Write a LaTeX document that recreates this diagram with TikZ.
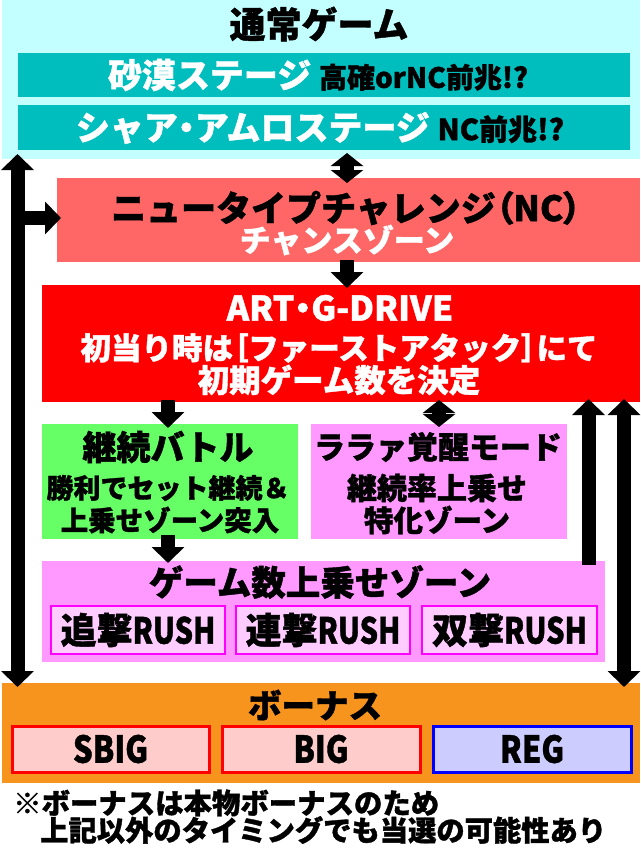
\documentclass[tikz,border=0pt]{standalone}
\usepackage{graphicx}
\usepackage{fontspec}
\setmainfont{Noto Sans CJK JP}[BoldFeatures={FakeBold=1.2}]
\usetikzlibrary{arrows.meta}
\definecolor{cyanbg}{RGB}{196,255,255}
\definecolor{tealbox}{RGB}{0,190,190}
\definecolor{salmon}{RGB}{255,102,102}
\definecolor{artred}{RGB}{255,0,0}
\definecolor{greenbox}{RGB}{102,255,102}
\definecolor{violetbox}{RGB}{255,153,255}
\definecolor{rushfill}{RGB}{255,204,255}
\definecolor{rushline}{RGB}{255,0,255}
\definecolor{orangebox}{RGB}{247,148,29}
\definecolor{bigfill}{RGB}{255,204,204}
\definecolor{regfill}{RGB}{204,204,255}
\newcommand\fsz[1]{\fontsize{#1}{#1}\selectfont}
\newcommand\pp[1]{{\addfontfeature{RawFeature=+palt}#1}}
\newcommand\cond[1]{\scalebox{0.84}[1]{#1}}
\newcommand\rcond[1]{\scalebox{0.8}[1]{#1}}
\begin{document}
\begin{tikzpicture}[x=1pt,y=-1pt,
  box/.style={anchor=north west, inner sep=0pt, outer sep=0pt},
  txt/.style={inner sep=0pt, font=\bfseries},
  rushbox/.style={box, fill=rushfill, draw=rushline, line width=2pt, minimum height=48},
  bonbox/.style={box, line width=3pt, minimum height=46},
  arr/.style={line width=14pt, -{Triangle[width=32pt,length=16pt]}},
  darr/.style={line width=14pt, {Triangle[width=32pt,length=16pt]}-{Triangle[width=32pt,length=16pt]}},
  sdarr/.style={line width=14pt, {Triangle[width=32pt,length=13pt]}-{Triangle[width=32pt,length=13pt]}}
]
\useasboundingbox (0,0) rectangle (640,851);
\fill[white] (0,0) rectangle (640,851);

% boxes
\node[box, fill=cyanbg, minimum width=638, minimum height=159] (normal) at (2,0) {};
\node[box, fill=tealbox, minimum width=612, minimum height=44] (stage1) at (18,53) {};
\node[box, fill=tealbox, minimum width=612, minimum height=45] (stage2) at (18,105) {};
\node[box, fill=salmon, minimum width=583, minimum height=84] (nc) at (57,178) {};
\node[box, fill=artred, minimum width=598, minimum height=117] (art) at (42,285) {};
\node[box, fill=greenbox, minimum width=256, minimum height=115] (battle) at (42,424) {};
\node[box, fill=violetbox, minimum width=256, minimum height=115] (lalah) at (311,424) {};
\node[box, fill=violetbox, minimum width=563, minimum height=101] (zone) at (42,561) {};
\node[rushbox, minimum width=174] (rush1) at (51,606) {};
\node[rushbox, minimum width=174] (rush2) at (236,606) {};
\node[rushbox, minimum width=175] (rush3) at (422,606) {};
\node[box, fill=orangebox, minimum width=638, minimum height=100] (bonus) at (2,683) {};
\node[bonbox, fill=bigfill, draw=artred, minimum width=197] (sbig) at (12,726) {};
\node[bonbox, fill=bigfill, draw=artred, minimum width=198] (big) at (222,726) {};
\node[bonbox, fill=regfill, draw=blue, minimum width=198] (reg) at (433,726) {};

% texts
\node[txt] (tnormal) at (319,24) {\fsz{36}通常ゲーム};
\node[txt] (tstage1) at (318,75) {\fsz{34}\textcolor{white}{砂漠ステージ} \fsz{28}高確orNC前兆!?};
\node[txt] (tstage2) at (320,128) {\fsz{34}\textcolor{white}{シャア\pp{・}アムロステージ} \fsz{29}NC前兆!?};
\node[txt] (tnc1) at (346,208) {\fsz{35}ニュータイプチャレンジ\pp{（}NC\pp{）}};
\node[txt, text=white] (tnc2) at (347,240) {\fsz{31}チャンスゾーン};
\node[txt, text=white] (tart1) at (340,308) {\fsz{34}ART\pp{・}G-DRIVE};
\node[txt, text=white] (tart2) at (339,348) {\fsz{30.5}初当り時は\pp{［}ファーストアタック\pp{］}にて};
\node[txt, text=white] (tart3) at (339,380) {\fsz{31.5}初期ゲーム数を決定};
\node[txt] (tbat1) at (168,447) {\fsz{34}継続バトル};
\node[txt] (tbat2) at (168,488) {\fsz{27}勝利でセット継続＆};
\node[txt] (tbat3) at (170,520) {\fsz{27.5}上乗せゾーン突入};
\node[txt] (tlal1) at (438,447) {\fsz{31}ララァ覚醒モード};
\node[txt] (tlal2) at (437,488) {\fsz{30}継続率上乗せ};
\node[txt] (tlal3) at (437,520) {\fsz{29.5}特化ゾーン};
\node[txt] (tzone) at (320,582) {\fsz{34.5}ゲーム数上乗せゾーン};
\node[txt] (trush1) at (rush1.center) {\fsz{36}追撃\rcond{RUSH}};
\node[txt] (trush2) at (rush2.center) {\fsz{36}連撃\rcond{RUSH}};
\node[txt] (trush3) at (rush3.center) {\fsz{36}双撃\rcond{RUSH}};
\node[txt] (tbonus) at (315,705) {\fsz{33.5}ボーナス};
\node[txt] (tsbig) at (sbig.center) {\fsz{37}\cond{SBIG}};
\node[txt] (tbig) at (big.center) {\fsz{37}\cond{BIG}};
\node[txt] (treg) at (reg.center) {\fsz{37}\cond{REG}};
\node[txt, anchor=west] (note1) at (13,803) {\fsz{28.4}※ボーナスは本物ボーナスのため};
\node[txt, anchor=west] (note2) at (40,830) {\fsz{28.3}上記以外のタイミングでも当選の可能性あり};

% arrow coordinates
\coordinate (lt) at (17.5,154);
\coordinate (lb) at (17.5,687);
\coordinate (lbr) at (17.5,218);
\coordinate (lbrt) at (61,218);
\coordinate (a1t) at (347,153);
\coordinate (a1b) at (347,183);
\coordinate (a2t) at (347,260);
\coordinate (a2b) at (347,288);
\coordinate (a3t) at (168,400);
\coordinate (a3b) at (168,428);
\coordinate (a4t) at (439,400);
\coordinate (a4b) at (439,427);
\coordinate (a5t) at (168,535);
\coordinate (a5b) at (168,563);
\coordinate (r1b) at (588.5,565);
\coordinate (r1t) at (588.5,399);
\coordinate (r2b) at (624,687);
\coordinate (r2t) at (624,399);

% arrows
\draw[darr] (lt) -- (lb);
\draw[arr] (lbr) -- (lbrt);
\draw[sdarr] (a1t) -- (a1b);
\draw[arr] (a2t) -- (a2b);
\draw[arr] (a3t) -- (a3b);
\draw[sdarr] (a4t) -- (a4b);
\draw[arr] (a5t) -- (a5b);
\draw[arr] (r1b) -- (r1t);
\draw[darr] (r2b) -- (r2t);
\end{tikzpicture}
\end{document}
